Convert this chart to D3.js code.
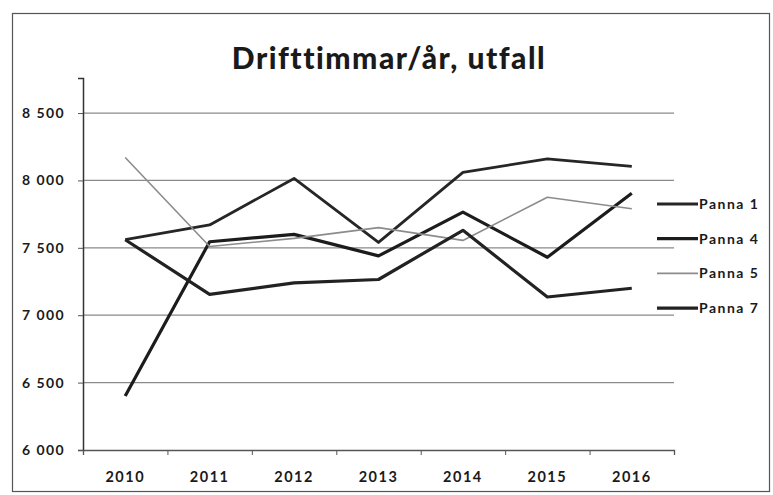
<!DOCTYPE html>
<html>
<head>
<meta charset="utf-8">
<script src="https://cdn.jsdelivr.net/npm/d3@7"></script>
<style>
    body{margin:0;background:#fff}
    text{font-family:Lato,"Open Sans",sans-serif;fill:#1a1a1a}
</style>
</head>
<body>
<svg id="graphContainer"></svg>
<script>
/*data*/
const years=['2010','2011','2012','2013','2014','2015','2016']
const panna1=[7560,7670,8015,7540,8060,8160,8105]
const panna4=[6400,7545,7600,7440,7765,7430,7905]
const panna5=[8170,7510,7570,7650,7555,7875,7790]
const panna7=[7560,7155,7240,7265,7630,7135,7200]
const seriesNames=['Panna 1','Panna 4','Panna 5','Panna 7']
const yTicks=[6000,6500,7000,7500,8000,8500]

const width=773,
height=495,
margin={top: 78, right: 99, bottom: 45, left: 83}

const styles=[
    {color:'#262626',w:2.8},
    {color:'#1c1c1c',w:3.2},
    {color:'#8c8c8c',w:1.6},
    {color:'#222222',w:3.2}
]

let svgContainer=d3.select('#graphContainer')
                   .attr('width',width)
                   .attr('height',height)

/*outer frame*/
svgContainer.append('rect')
            .attr('x',12.5)
            .attr('y',13.5)
            .attr('width',757)
            .attr('height',478)
            .attr('fill','none')
            .attr('stroke','#555')
            .attr('stroke-width',1.2)

/*scales*/
const xBand=d3.scaleBand()
              .domain(years)
              .range([margin.left,width-margin.right])
const xScale=d3.scalePoint()
               .domain(years)
               .range([margin.left,width-margin.right])
               .padding(0.5)
const yScale=d3.scaleLinear()
               .domain([6000,8760])
               .range([height-margin.bottom,margin.top])

/*gridlines*/
svgContainer.append('g')
            .selectAll('line')
            .data(yTicks.slice(1))
            .enter()
            .append('line')
            .attr('x1',margin.left)
            .attr('x2',width-margin.right)
            .attr('y1',d=>yScale(d))
            .attr('y2',d=>yScale(d))
            .attr('stroke','#8a8a8a')
            .attr('stroke-width',1.2)

/*axes*/
const yAxis=d3.axisLeft(yScale)
              .tickValues(yTicks)
              .tickSize(5)
              .tickPadding(13)
              .tickFormat(d=>d3.format(',')(d).replace(',',' '))
const gy=svgContainer.append('g')
            .attr('transform','translate('+margin.left+',0)')
            .call(yAxis)
gy.select('.domain').attr('stroke','#333').attr('stroke-width',1.5)
gy.selectAll('.tick line').attr('stroke','#555')
gy.selectAll('text').style('font-size','14px').style('font-weight','bold').style('letter-spacing','1.4px')

const boundaryScale=d3.scaleLinear()
                      .domain([0,years.length])
                      .range([margin.left,width-margin.right])
const gxTicks=svgContainer.append('g')
            .attr('transform','translate(0,'+(height-margin.bottom)+')')
            .call(d3.axisBottom(boundaryScale).ticks(years.length).tickSize(5).tickFormat(''))
gxTicks.select('.domain').attr('stroke','#555').attr('stroke-width',1.3)
gxTicks.selectAll('.tick line').attr('stroke','#555')

const gx=svgContainer.append('g')
            .attr('transform','translate(0,'+(height-margin.bottom)+')')
            .call(d3.axisBottom(xBand).tickSize(0).tickPadding(22))
gx.select('.domain').remove()
gx.selectAll('text').style('font-size','14.5px').style('font-weight','bold').style('letter-spacing','1.5px')

/*lines*/
const allSeries=[panna1,panna4,panna5,panna7]
const line=d3.line()
             .x((d,i)=>xScale(years[i]))
             .y(d=>yScale(d))

allSeries.forEach((serie,i)=>{
    svgContainer.append('path')
                .datum(serie)
                .attr('d',line)
                .attr('fill','none')
                .attr('stroke',styles[i].color)
                .attr('stroke-width',styles[i].w)
                .attr('stroke-linejoin','round')
})

/*title*/
svgContainer.append('text')
            .attr('x',389)
            .attr('y',69)
            .attr('text-anchor','middle')
            .style('font-size','30px')
            .style('font-weight','900')
            .style('letter-spacing','1.5px')
            .text('Drifttimmar/år, utfall')

/*legend*/
const legend=svgContainer.append('g')
seriesNames.forEach((name,i)=>{
    const ly=204+i*34.7
    legend.append('line')
          .attr('x1',657)
          .attr('x2',698)
          .attr('y1',ly)
          .attr('y2',ly)
          .attr('stroke',styles[i].color)
          .attr('stroke-width',styles[i].w)
    legend.append('text')
          .attr('x',699)
          .attr('y',ly+5)
          .style('font-size','14px')
          .style('font-weight','bold')
          .style('letter-spacing','1.5px')
          .text(name)
})
</script>
</body>
</html>
